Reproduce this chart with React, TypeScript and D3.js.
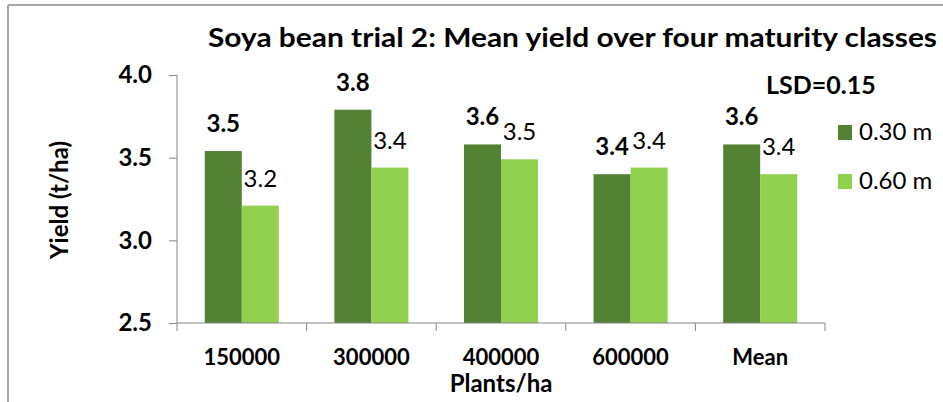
import { useEffect, useRef } from "react"
import * as d3 from "d3"

const categories = ["150000", "300000", "400000", "600000", "Mean"]
const seriesNames = ["0.30 m", "0.60 m"]
const spacing030 = [3.54, 3.79, 3.58, 3.4, 3.58]
const spacing060 = [3.21, 3.44, 3.49, 3.44, 3.4]
const yTicks = [2.5, 3.0, 3.5, 4.0]
const colors = ["#548235", "#92D050"]

const FONT = "Lato, 'Open Sans', sans-serif"

export default function App() {
  const svgRef = useRef<SVGSVGElement>(null)
  const width = 943
  const height = 402

  useEffect(() => {
    if (!svgRef.current) return
    const svg = d3.select(svgRef.current)
    svg.selectAll("*").remove()

    // plot area
    const left = 177
    const right = 825
    const top = 75
    const bottom = 323

    const x = d3.scaleBand<string>().domain(categories).range([left, right]).paddingInner(0).paddingOuter(0)
    const x1 = d3.scaleBand<string>().domain(seriesNames).range([0, x.bandwidth()]).paddingInner(0).paddingOuter(0.75)
    const y = d3.scaleLinear().domain([2.5, 4.0]).range([bottom, top])

    // outer frame (cropped)
    svg.append("line").attr("x1", 8).attr("x2", width).attr("y1", 5).attr("y2", 5).attr("stroke", "#a6a6a6").attr("stroke-width", 2)
    svg.append("line").attr("x1", 8).attr("x2", 8).attr("y1", 5).attr("y2", height).attr("stroke", "#a6a6a6").attr("stroke-width", 2)

    // title
    svg
      .append("text")
      .attr("x", 208)
      .attr("y", 47)
      .attr("font-family", FONT)
      .attr("font-weight", "bold")
      .attr("font-size", 26)
      .attr("textLength", 729)
      .attr("lengthAdjust", "spacingAndGlyphs")
      .text("Soya bean trial 2: Mean yield over four maturity classes")

    // bars
    const rows = categories.map((c, i) => ({ cat: c, values: [spacing030[i], spacing060[i]] }))
    const groups = svg
      .selectAll(".grp")
      .data(rows)
      .enter()
      .append("g")
      .attr("transform", (d) => `translate(${x(d.cat)},0)`)

    groups
      .selectAll("rect")
      .data((d) => d.values.map((v, j) => ({ key: seriesNames[j], v, j })))
      .enter()
      .append("rect")
      .attr("x", (d) => x1(d.key) || 0)
      .attr("y", (d) => y(d.v))
      .attr("width", x1.bandwidth())
      .attr("height", (d) => bottom - y(d.v))
      .attr("fill", (d) => colors[d.j])

    groups
      .selectAll("text")
      .data((d) => d.values.map((v, j) => ({ key: seriesNames[j], v, j })))
      .enter()
      .append("text")
      .attr("x", (d) => (x1(d.key) || 0) + x1.bandwidth() / 2)
      .attr("y", (d) => y(d.v) - 19)
      .attr("text-anchor", "middle")
      .attr("font-family", FONT)
      .attr("font-size", 24)
      .attr("font-weight", (d) => (d.j === 0 ? "bold" : "normal"))
      .attr("fill", "#000")
      .text((d) => d.v.toFixed(1))

    // y axis
    const yAxis = svg
      .append("g")
      .attr("transform", `translate(${left},0)`)
      .call(d3.axisLeft(y).tickValues(yTicks).tickFormat(d3.format(".1f")).tickSize(8).tickPadding(17))
    yAxis.selectAll("line").attr("stroke", "#868686")
    yAxis.select(".domain").attr("stroke", "#868686").attr("d", `M0,${top}V${bottom}`)
    yAxis
      .selectAll("text")
      .attr("font-family", FONT)
      .attr("font-size", 24)
      .attr("font-weight", "bold")
      .attr("fill", "#000")

    // x axis
    svg
      .append("line")
      .attr("x1", left)
      .attr("x2", right)
      .attr("y1", bottom)
      .attr("y2", bottom)
      .attr("stroke", "#868686")
    const bounds = [...categories.map((c) => x(c) || 0), right]
    svg
      .selectAll(".xtick")
      .data(bounds)
      .enter()
      .append("line")
      .attr("x1", (d) => d)
      .attr("x2", (d) => d)
      .attr("y1", bottom)
      .attr("y2", bottom + 8)
      .attr("stroke", "#868686")
    svg
      .selectAll(".xlab")
      .data(categories)
      .enter()
      .append("text")
      .attr("x", (d) => (x(d) || 0) + x.bandwidth() / 2)
      .attr("y", 365)
      .attr("text-anchor", "middle")
      .attr("font-family", FONT)
      .attr("font-size", 22)
      .attr("font-weight", "bold")
      .text((d) => d)

    // axis titles
    svg
      .append("text")
      .attr("x", (left + right) / 2)
      .attr("y", 392)
      .attr("text-anchor", "middle")
      .attr("font-family", FONT)
      .attr("font-size", 24)
      .attr("font-weight", "bold")
      .text("Plants/ha")
    svg
      .append("text")
      .attr("transform", "translate(68,200) rotate(-90)")
      .attr("text-anchor", "middle")
      .attr("font-family", FONT)
      .attr("font-size", 24)
      .attr("font-weight", "bold")
      .text("Yield (t/ha)")

    // LSD note
    svg
      .append("text")
      .attr("x", 766)
      .attr("y", 94)
      .attr("font-family", FONT)
      .attr("font-size", 25)
      .attr("font-weight", "bold")
      .text("LSD=0.15")

    // legend
    const legend = svg
      .selectAll(".leg")
      .data(seriesNames)
      .enter()
      .append("g")
      .attr("transform", (_d, i) => `translate(838,${125 + i * 49})`)
    legend.append("rect").attr("width", 14).attr("height", 15).attr("fill", (_d, i) => colors[i])
    legend
      .append("text")
      .attr("x", 21)
      .attr("y", 15)
      .attr("font-family", FONT)
      .attr("font-size", 24)
      .text((d) => d)
  }, [])

  return (
    <svg
      ref={svgRef}
      width={width}
      height={height}
      style={{ position: "absolute", left: 0, top: 0, background: "#fff" }}
    />
  )
}
